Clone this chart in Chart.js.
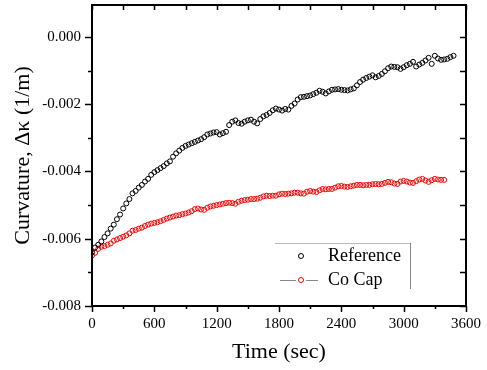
<!DOCTYPE html>
<html lang="en">
<head>
    <meta charset="UTF-8">
    <title>Curvature vs time</title>
    <style>
        body { margin: 0; background: #fff; }
        canvas { display: block; }
    </style>
</head>
<body>
<canvas id="myChart" width="487" height="370"></canvas>

<script src="https://cdn.jsdelivr.net/npm/chart.js"></script>

<script>
    // time of each sample (sec)
    const timeSec = [
        0, 30, 60, 90, 120, 150, 180, 210, 240, 270, 300, 330, 360, 390, 420, 450, 480, 510, 540, 570,
        600, 630, 660, 690, 720, 750, 780, 810, 840, 870, 900, 930, 960, 990, 1020, 1050, 1080, 1110, 1140, 1170,
        1200, 1230, 1260, 1290, 1320, 1350, 1380, 1410, 1440, 1470, 1500, 1530, 1560, 1590, 1620, 1650, 1680, 1710, 1740, 1770,
        1800, 1830, 1860, 1890, 1920, 1950, 1980, 2010, 2040, 2070, 2100, 2130, 2160, 2190, 2220, 2250, 2280, 2310, 2340, 2370,
        2400, 2430, 2460, 2490, 2520, 2550, 2580, 2610, 2640, 2670, 2700, 2730, 2760, 2790, 2820, 2850, 2880, 2910, 2940, 2970,
        3000, 3030, 3060, 3090, 3120, 3150, 3180, 3210, 3240, 3270, 3300, 3330, 3360, 3390, 3420, 3450, 3480
    ];

    // curvature, reference sample (1/m)
    const referenceK = [
        -0.00640, -0.00626, -0.00618, -0.00608, -0.00595, -0.00584, -0.00570, -0.00558, -0.00542, -0.00528,
        -0.00510, -0.00495, -0.00482, -0.00465, -0.00458, -0.00448, -0.00440, -0.00430, -0.00422, -0.00410,
        -0.00402, -0.00396, -0.00390, -0.00384, -0.00376, -0.00370, -0.00356, -0.00346, -0.00338, -0.00330,
        -0.00324, -0.00320, -0.00316, -0.00312, -0.00308, -0.00304, -0.00298, -0.00290, -0.00287, -0.00284,
        -0.00283, -0.00290, -0.00286, -0.00282, -0.00262, -0.00252, -0.00248, -0.00256, -0.00258, -0.00252,
        -0.00248, -0.00246, -0.00252, -0.00257, -0.00244, -0.00236, -0.00232, -0.00226, -0.00218, -0.00213,
        -0.00216, -0.00219, -0.00214, -0.00216, -0.00205, -0.00198, -0.00186, -0.00179, -0.00178, -0.00176,
        -0.00174, -0.00170, -0.00166, -0.00160, -0.00163, -0.00168, -0.00162, -0.00157, -0.00156, -0.00155,
        -0.00157, -0.00158, -0.00159, -0.00156, -0.00153, -0.00144, -0.00134, -0.00127, -0.00122, -0.00118,
        -0.00114, -0.00120, -0.00116, -0.00110, -0.00102, -0.00093, -0.00088, -0.00089, -0.00090, -0.00095,
        -0.00090, -0.00084, -0.00080, -0.00074, -0.00088, -0.00082, -0.00077, -0.00070, -0.00062, -0.00080,
        -0.00056, -0.00064, -0.00068, -0.00067, -0.00065, -0.00060, -0.00056
    ];

    // curvature, Co capped sample (1/m), first 114 times
    const coCapK = [
        -0.00650, -0.00642, -0.00630, -0.00624, -0.00622, -0.00618, -0.00614, -0.00606, -0.00602, -0.00598,
        -0.00594, -0.00590, -0.00584, -0.00576, -0.00574, -0.00570, -0.00567, -0.00562, -0.00558, -0.00555,
        -0.00553, -0.00551, -0.00548, -0.00544, -0.00540, -0.00537, -0.00534, -0.00531, -0.00530, -0.00527,
        -0.00525, -0.00522, -0.00518, -0.00512, -0.00510, -0.00513, -0.00514, -0.00508, -0.00504, -0.00502,
        -0.00500, -0.00498, -0.00496, -0.00494, -0.00493, -0.00494, -0.00496, -0.00490, -0.00487, -0.00485,
        -0.00484, -0.00482, -0.00482, -0.00481, -0.00478, -0.00474, -0.00472, -0.00473, -0.00472, -0.00472,
        -0.00468, -0.00466, -0.00467, -0.00466, -0.00465, -0.00463, -0.00463, -0.00465, -0.00466, -0.00460,
        -0.00458, -0.00460, -0.00461, -0.00456, -0.00452, -0.00453, -0.00452, -0.00452, -0.00448, -0.00444,
        -0.00443, -0.00445, -0.00446, -0.00444, -0.00442, -0.00440, -0.00440, -0.00441, -0.00440, -0.00440,
        -0.00438, -0.00437, -0.00438, -0.00437, -0.00434, -0.00431, -0.00432, -0.00436, -0.00437, -0.00430,
        -0.00428, -0.00430, -0.00433, -0.00434, -0.00429, -0.00424, -0.00422, -0.00427, -0.00431, -0.00426,
        -0.00422, -0.00424, -0.00425, -0.00425
    ];

    const seriesLabels = ['Reference', 'Co Cap'];

    const serif = "'Liberation Serif', 'Times New Roman', serif";

    // frame, inner/outer ticks and the in-plot legend
    const framePlugin = {
        id: 'frame',
        afterDraw(chart) {
            const ctx = chart.ctx;
            const a = chart.chartArea;
            const xs = chart.scales.x, ys = chart.scales.y;
            ctx.save();
            ctx.strokeStyle = '#000';
            ctx.lineWidth = 1.5;
            // x ticks: bottom outward, top inward
            xs.ticks.forEach(t => {
                const px = Math.round(xs.getPixelForValue(t.value)) + 0.5;
                const major = t.value % 600 === 0;
                ctx.beginPath();
                ctx.moveTo(px, a.bottom);
                ctx.lineTo(px, a.bottom + (major ? 6 : 3));
                ctx.moveTo(px, a.top);
                ctx.lineTo(px, a.top + 5);
                ctx.stroke();
            });
            // y ticks: left outward, right inward
            ys.ticks.forEach(t => {
                const py = Math.round(ys.getPixelForValue(t.value)) + 0.5;
                const major = Math.round(t.value * 1000) % 2 === 0;
                ctx.beginPath();
                ctx.moveTo(a.left, py);
                ctx.lineTo(a.left - (major ? 7 : 4), py);
                ctx.moveTo(a.right, py);
                ctx.lineTo(a.right - 6, py);
                ctx.stroke();
            });
            // box
            ctx.lineWidth = 2;
            ctx.strokeRect(a.left, a.top, a.right - a.left, a.bottom - a.top);

            // legend
            const lx = 275, ly = 243, lw = 135, lh = 46;
            ctx.lineWidth = 1;
            ctx.strokeStyle = '#bbb';
            ctx.beginPath();
            ctx.moveTo(lx, ly + 0.5);
            ctx.lineTo(lx + lw, ly + 0.5);
            ctx.stroke();
            ctx.strokeStyle = '#888';
            ctx.beginPath();
            ctx.moveTo(lx + lw + 0.5, ly);
            ctx.lineTo(lx + lw + 0.5, ly + lh);
            ctx.stroke();

            ctx.font = '18px ' + serif;
            ctx.textBaseline = 'middle';
            ctx.fillStyle = '#000';
            chart.data.datasets.forEach((ds, i) => {
                const y = ly + 13 + i * 24;
                if (i === 1) {
                    ctx.strokeStyle = '#888';
                    ctx.lineWidth = 1;
                    ctx.beginPath();
                    ctx.moveTo(280, y + 0.5); ctx.lineTo(296, y + 0.5);
                    ctx.moveTo(306, y + 0.5); ctx.lineTo(318, y + 0.5);
                    ctx.stroke();
                }
                ctx.strokeStyle = ds.borderColor;
                ctx.lineWidth = 1;
                ctx.beginPath();
                ctx.arc(301, y, 2.5, 0, Math.PI * 2);
                ctx.stroke();
                ctx.fillText(ds.label, 328, y);
            });
            ctx.restore();
        }
    };

    const ctx = document.getElementById('myChart');

    new Chart(ctx, {
        type: 'scatter',
        data: {
            datasets: [{
                label: seriesLabels[0],
                data: referenceK.map((v, i) => ({ x: timeSec[i], y: v })),
                borderColor: '#000',
                backgroundColor: 'rgba(0,0,0,0)',
                pointRadius: 2.5,
                pointBorderWidth: 1
            }, {
                label: seriesLabels[1],
                data: coCapK.map((v, i) => ({ x: timeSec[i], y: v })),
                borderColor: '#ff0000',
                backgroundColor: 'rgba(0,0,0,0)',
                pointRadius: 2.5,
                pointBorderWidth: 1
            }]
        },
        options: {
            responsive: false,
            animation: false,
            layout: { padding: { top: 3, right: 21, left: 0, bottom: 0 } },
            plugins: {
                legend: { display: false },
                tooltip: { enabled: false }
            },
            scales: {
                x: {
                    type: 'linear',
                    min: 0,
                    max: 3600,
                    afterFit: s => { s.height = 64; s.paddingLeft = 0; s.paddingRight = 0; },
                    grid: { display: false },
                    border: { display: false },
                    ticks: {
                        stepSize: 300,
                        maxRotation: 0,
                        autoSkip: false,
                        padding: 1,
                        color: '#000',
                        font: { family: serif, size: 15 },
                        callback: v => (v % 600 === 0 ? String(v) : '')
                    },
                    title: {
                        display: true,
                        text: 'Time (sec)',
                        color: '#000',
                        font: { family: serif, size: 22 },
                        padding: { top: 0, bottom: 5 }
                    }
                },
                y: {
                    min: -0.008,
                    max: 0.00095,
                    afterFit: s => { s.width = 92; s.paddingTop = 0; s.paddingBottom = 0; },
                    grid: { display: false },
                    border: { display: false },
                    ticks: {
                        stepSize: 0.001,
                        includeBounds: false,
                        autoSkip: false,
                        padding: 3,
                        color: '#000',
                        font: { family: serif, size: 15 },
                        callback: v => (Math.round(v * 1000) % 2 === 0 ? v.toFixed(3) : '')
                    },
                    title: {
                        display: true,
                        text: 'Curvature, Δκ (1/m)',
                        color: '#000',
                        font: { family: serif, size: 22 },
                        padding: { top: 10, bottom: 0 }
                    }
                }
            }
        },
        plugins: [framePlugin]
    });
</script>
</body>
</html>
